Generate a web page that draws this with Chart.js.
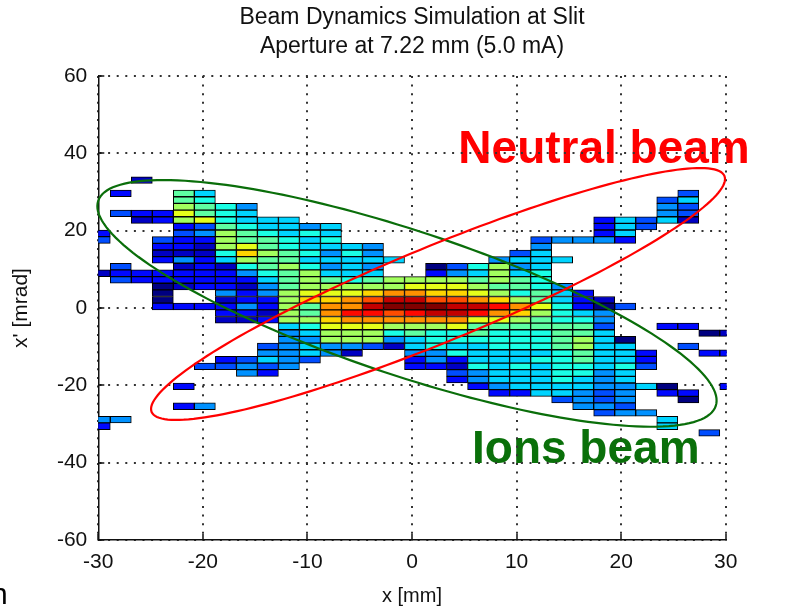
<!DOCTYPE html>
<html>
<head>
<meta charset="utf-8">
<title>Beam Dynamics Simulation at Slit</title>
<script src="https://cdn.jsdelivr.net/npm/chart.js@4.4.1/dist/chart.umd.min.js"></script>
<style>
  html, body { margin: 0; padding: 0; background: #fff; }
  canvas { display: block; }
</style>
</head>
<body>
<canvas id="phase" width="792" height="609"></canvas>
<script>
// histogram bin centres: x in mm, x' in mrad (top row first)
const xBins = [-29.86, -27.85, -25.84, -23.83, -21.82, -19.81, -17.80, -15.79, -13.78, -11.77,
  -9.76, -7.75, -5.74, -3.73, -1.72, 0.29, 2.30, 4.31, 6.32, 8.33,
  10.34, 12.35, 14.36, 16.37, 18.38, 20.39, 22.40, 24.41, 26.42, 28.43, 30.44];
const yBins = [33.06, 31.34, 29.62, 27.90, 26.18, 24.46, 22.74, 21.02, 19.30, 17.58,
  15.86, 14.14, 12.42, 10.70, 8.98, 7.26, 5.54, 3.82, 2.10, 0.38,
  -1.34, -3.06, -4.78, -6.50, -8.22, -9.94, -11.66, -13.38, -15.10, -16.82,
  -18.54, -20.26, -21.98, -23.70, -25.42, -27.14, -28.86, -30.58, -32.30];
const binHeight = 1.72;

// particle density per cell, one string per yBins row, one char per xBins column
// '.' = no particles, '1'..'9','a'..'g' = density level 1..16
const densityRows = [
  "..2............................",
  "...............................",
  ".3..86......................4..",
  "....87.....................46..",
  "....9875...................54..",
  ".433a876...................54..",
  "..239a7666..............36462..",
  "....34876656............364....",
  "3...45987676............36.....",
  "4..433988767.........45553.....",
  "...3329a876665.......5.........",
  "...2227b987575......46.........",
  "...353698866666....5666........",
  ".4..2327897565..147956.........",
  "23333335789666..356967.........",
  ".433333368987899998987.........",
  "...123325899999aaa98875........",
  "...1..5359aaabccbba97863.......",
  "...1..2339bbcdffddcb98632......",
  "...33335398ccfgggffeca7314.....",
  "......33298ceedeffecb9765......",
  "......22399bccccccaa98775......",
  ".........67aaa999a8888884..33..",
  ".........5699978778777886....12",
  ".........55999567777778961.....",
  "........456554267667778966..4..",
  "........55652..557666678663..33",
  "......34654....353666778663....",
  ".....44545.....332767677674....",
  ".......53........456667756.....",
  ".................356667656.....",
  "....3.............3566665561..3",
  "...................3366545.33..",
  "......................4545..1..",
  "....35.................554.....",
  "........................455....",
  "55.........................6...",
  "3..........................6...",
  ".............................4."
];

const xTicks = [-30, -20, -10, 0, 10, 20, 30];
const yTicks = [-60, -40, -20, 0, 20, 40, 60];

const titleLines = ['Beam Dynamics Simulation at Slit', 'Aperture at 7.22 mm (5.0 mA)'];

// beam envelopes: centre plus two conjugate semi-diameters, all in axis units
const neutralBeam = { cx: 2.49, cy: 3.62, ux: 27.39, uy: 30.51, vx: 1.74, vy: -11.40, color: '#ff0000' };
const ionsBeam = { cx: -0.48, cy: 1.19, ux: 29.53, uy: -26.51, vx: -2.18, vy: -17.74, color: '#0a6e0a' };

const beamLabels = [
  { text: 'Neutral beam', x: 4.43, y: 37.4, color: '#ff0000' },
  { text: 'Ions beam', x: 5.74, y: -40.1, color: '#0a700a' }
];

const FONT = '"Liberation Sans", Arial, Helvetica, sans-serif';

function jet(level) {
  const t = (level - 1) / 15;
  const c = (v) => Math.round(255 * Math.min(1, Math.max(0, 1.5 - Math.abs(4 * t - v))));
  return `rgb(${c(3)}, ${c(2)}, ${c(1)})`;
}

const cells = [];
densityRows.forEach((row, r) => {
  [...row].forEach((ch, i) => {
    if (ch === '.') return;
    cells.push({
      x: xBins[i],
      y: [yBins[r] - binHeight / 2, yBins[r] + binHeight / 2],
      level: parseInt(ch, 17)
    });
  });
});

const beamNotes = {
  id: 'beamNotes',
  beforeDraw(chart) {
    const { ctx, scales: { x, y } } = chart;
    ctx.save();
    ctx.textBaseline = 'alphabetic';
    ctx.textAlign = 'left';
    ctx.font = 'bold 46px ' + FONT;
    beamLabels.forEach((l) => {
      ctx.fillStyle = l.color;
      ctx.fillText(l.text, x.getPixelForValue(l.x), y.getPixelForValue(l.y));
    });
    // leftover glyph at the page edge
    ctx.fillStyle = '#000';
    ctx.font = '30px ' + FONT;
    ctx.fillText('n', -9, 604);
    ctx.restore();
  },
  afterDatasetsDraw(chart) {
    const { ctx, scales: { x, y } } = chart;
    ctx.save();
    [ionsBeam, neutralBeam].forEach((e) => {
      const px = x.getPixelForValue(e.cx);
      const py = y.getPixelForValue(e.cy);
      const ux = x.getPixelForValue(e.cx + e.ux) - px;
      const uy = y.getPixelForValue(e.cy + e.uy) - py;
      const vx = x.getPixelForValue(e.cx + e.vx) - px;
      const vy = y.getPixelForValue(e.cy + e.vy) - py;
      ctx.beginPath();
      for (let k = 0; k <= 180; k++) {
        const t = (k / 180) * Math.PI * 2;
        const qx = px + ux * Math.cos(t) + vx * Math.sin(t);
        const qy = py + uy * Math.cos(t) + vy * Math.sin(t);
        if (k === 0) ctx.moveTo(qx, qy); else ctx.lineTo(qx, qy);
      }
      ctx.closePath();
      ctx.lineWidth = 2.2;
      ctx.strokeStyle = e.color;
      ctx.stroke();
    });
    ctx.restore();
  }
};

new Chart(document.getElementById('phase'), {
  type: 'bar',
  data: {
    datasets: [{
      data: cells,
      backgroundColor: (c) => jet(c.raw ? c.raw.level : 1),
      borderColor: '#000',
      borderWidth: 1,
      borderSkipped: false,
      barPercentage: 1,
      categoryPercentage: 1,
      clip: { left: 0, top: 0, right: 1, bottom: 0 }
    }]
  },
  options: {
    responsive: false,
    animation: false,
    devicePixelRatio: 1,
    layout: { padding: { left: 0, right: 66.3, top: 0, bottom: 0 } },
    plugins: {
      legend: { display: false },
      tooltip: { enabled: false },
      title: {
        display: true,
        text: titleLines,
        fullSize: false,
        color: '#111',
        font: { family: FONT, size: 23, weight: 'normal', lineHeight: 1.26 },
        padding: { top: 3.5, bottom: 14.5 }
      }
    },
    scales: {
      x: {
        type: 'linear',
        min: -30,
        max: 30,
        offset: false,
        afterFit: (s) => { s.height = 69; },
        afterBuildTicks: (s) => { s.ticks = xTicks.map((v) => ({ value: v })); },
        ticks: { color: '#111', padding: 16, font: { family: FONT, size: 21 } },
        grid: { offset: false, color: '#333', lineWidth: 2, tickLength: -6, tickColor: '#111', tickWidth: 1.5 },
        border: { color: '#111', width: 1.5, dash: [2, 6.6] },
        title: { display: true, text: 'x [mm]', color: '#111', font: { family: FONT, size: 20 }, padding: { top: 0, bottom: 1 } }
      },
      y: {
        type: 'linear',
        min: -60,
        max: 60,
        afterFit: (s) => { s.width = 98.3; },
        afterBuildTicks: (s) => { s.ticks = yTicks.map((v) => ({ value: v })); },
        ticks: { color: '#111', padding: 17, font: { family: FONT, size: 21 } },
        grid: { color: '#333', lineWidth: 2, tickLength: -6, tickColor: '#111', tickWidth: 1.5 },
        border: { color: '#111', width: 1.5, dash: [2, 6.6] },
        title: { display: true, text: "x' [mrad]", color: '#111', font: { family: FONT, size: 21 }, padding: { top: 9, bottom: 0 } }
      }
    }
  },
  plugins: [beamNotes]
});
</script>
</body>
</html>
